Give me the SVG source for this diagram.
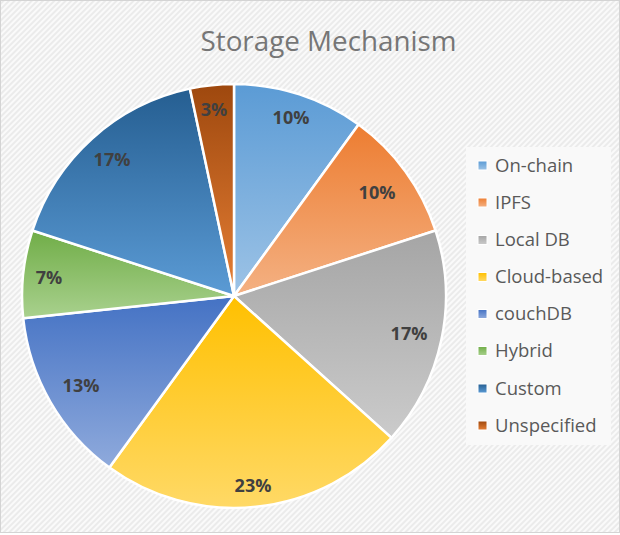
<svg xmlns="http://www.w3.org/2000/svg" width="620" height="535" viewBox="0 0 620 535">
  <defs>
    <!-- faint diagonal hatch used for the chart area -->
    <pattern id="hatch" width="4" height="4" patternUnits="userSpaceOnUse" patternTransform="rotate(45)">
      <rect width="4" height="4" fill="#ebebeb"/>
      <rect width="2" height="4" fill="#fafafa"/>
    </pattern>
    <!-- per-slice vertical gradients: darker at the top, lighter at the bottom -->
    <linearGradient id="g-onchain" x1="0" y1="0" x2="0" y2="1"><stop offset="0" stop-color="#5b9bd5"/><stop offset="1" stop-color="#9dc3e6"/></linearGradient>
    <linearGradient id="g-ipfs" x1="0" y1="0" x2="0" y2="1"><stop offset="0" stop-color="#ed7d31"/><stop offset="1" stop-color="#f4b183"/></linearGradient>
    <linearGradient id="g-local" x1="0" y1="0" x2="0" y2="1"><stop offset="0" stop-color="#a5a5a5"/><stop offset="1" stop-color="#cbcbcb"/></linearGradient>
    <linearGradient id="g-cloud" x1="0" y1="0" x2="0" y2="1"><stop offset="0" stop-color="#ffc000"/><stop offset="1" stop-color="#ffd966"/></linearGradient>
    <linearGradient id="g-couch" x1="0" y1="0" x2="0" y2="1"><stop offset="0" stop-color="#4472c4"/><stop offset="1" stop-color="#8faadc"/></linearGradient>
    <linearGradient id="g-hybrid" x1="0" y1="0" x2="0" y2="1"><stop offset="0" stop-color="#70ad47"/><stop offset="1" stop-color="#a9d18e"/></linearGradient>
    <linearGradient id="g-custom" x1="0" y1="0" x2="0" y2="1"><stop offset="0" stop-color="#255e91"/><stop offset="1" stop-color="#5b9bd5"/></linearGradient>
    <linearGradient id="g-unspec" x1="0" y1="0" x2="0" y2="1"><stop offset="0" stop-color="#9e480e"/><stop offset="1" stop-color="#e67f35"/></linearGradient>
  </defs>
  <style>
    .slice { stroke: #ffffff; stroke-width: 2.5; stroke-linejoin: round; }
    .pct { font-family: "Open Sans", "Liberation Sans", sans-serif; font-weight: bold; font-size: 18px; fill: #404040; text-anchor: middle; }
    .title { font-family: "Open Sans", "Liberation Sans", sans-serif; font-size: 28px; fill: #767676; text-anchor: middle; }
    .leg { font-family: "Open Sans", "Liberation Sans", sans-serif; font-size: 18.5px; fill: #595959; }
    .key { stroke: #ffffff; stroke-width: 1; }
  </style>

  <!-- background and frame -->
  <rect x="0" y="0" width="620" height="535" fill="#ffffff"/>
  <rect x="0.5" y="0.5" width="619" height="532" fill="url(#hatch)" stroke="#d4d4d4" stroke-width="1"/>

  <text class="title" x="328.5" y="51" textLength="256" lengthAdjust="spacingAndGlyphs">Storage Mechanism</text>

  <!-- pie: centre (234,296), radius 212, 30 items -->
  <g id="slice-onchain">
    <path class="slice" fill="url(#g-onchain)" d="M234,296 L234,84 A212,212 0 0 1 358.6,124.5 Z"/>
    <text class="pct" x="291" y="124">10%</text>
  </g>
  <g id="slice-ipfs">
    <path class="slice" fill="url(#g-ipfs)" d="M234,296 L358.6,124.5 A212,212 0 0 1 435.6,230.5 Z"/>
    <text class="pct" x="377" y="199">10%</text>
  </g>
  <g id="slice-localdb">
    <path class="slice" fill="url(#g-local)" d="M234,296 L435.6,230.5 A212,212 0 0 1 391.5,437.9 Z"/>
    <text class="pct" x="409" y="340">17%</text>
  </g>
  <g id="slice-cloud">
    <path class="slice" fill="url(#g-cloud)" d="M234,296 L391.5,437.9 A212,212 0 0 1 109.4,467.5 Z"/>
    <text class="pct" x="253" y="492">23%</text>
  </g>
  <g id="slice-couchdb">
    <path class="slice" fill="url(#g-couch)" d="M234,296 L109.4,467.5 A212,212 0 0 1 23.2,318.2 Z"/>
    <text class="pct" x="81" y="392">13%</text>
  </g>
  <g id="slice-hybrid">
    <path class="slice" fill="url(#g-hybrid)" d="M234,296 L23.2,318.2 A212,212 0 0 1 32.4,230.5 Z"/>
    <text class="pct" x="49" y="284">7%</text>
  </g>
  <g id="slice-custom">
    <path class="slice" fill="url(#g-custom)" d="M234,296 L32.4,230.5 A212,212 0 0 1 189.9,88.6 Z"/>
    <text class="pct" x="112" y="166">17%</text>
  </g>
  <g id="slice-unspecified">
    <path class="slice" fill="url(#g-unspec)" d="M234,296 L189.9,88.6 A212,212 0 0 1 234,84 Z"/>
    <text class="pct" x="214" y="116">3%</text>
  </g>

  <!-- legend -->
  <g id="legend">
    <rect x="466" y="147" width="145" height="298" fill="#f9f9f9"/>
    <g id="leg-onchain"><rect class="key" x="478" y="161" width="9" height="9" fill="url(#g-onchain)"/><text class="leg" x="495" y="171.5">On-chain</text></g>
    <g id="leg-ipfs"><rect class="key" x="478" y="198" width="9" height="9" fill="url(#g-ipfs)"/><text class="leg" x="495" y="208.5">IPFS</text></g>
    <g id="leg-localdb"><rect class="key" x="478" y="235.5" width="9" height="9" fill="url(#g-local)"/><text class="leg" x="495" y="246">Local DB</text></g>
    <g id="leg-cloud"><rect class="key" x="478" y="272.5" width="9" height="9" fill="url(#g-cloud)"/><text class="leg" x="495" y="283">Cloud-based</text></g>
    <g id="leg-couchdb"><rect class="key" x="478" y="309.5" width="9" height="9" fill="url(#g-couch)"/><text class="leg" x="495" y="320">couchDB</text></g>
    <g id="leg-hybrid"><rect class="key" x="478" y="346.5" width="9" height="9" fill="url(#g-hybrid)"/><text class="leg" x="495" y="357">Hybrid</text></g>
    <g id="leg-custom"><rect class="key" x="478" y="384" width="9" height="9" fill="url(#g-custom)"/><text class="leg" x="495" y="394.5">Custom</text></g>
    <g id="leg-unspecified"><rect class="key" x="478" y="421" width="9" height="9" fill="url(#g-unspec)"/><text class="leg" x="495" y="431.5">Unspecified</text></g>
  </g>
</svg>
